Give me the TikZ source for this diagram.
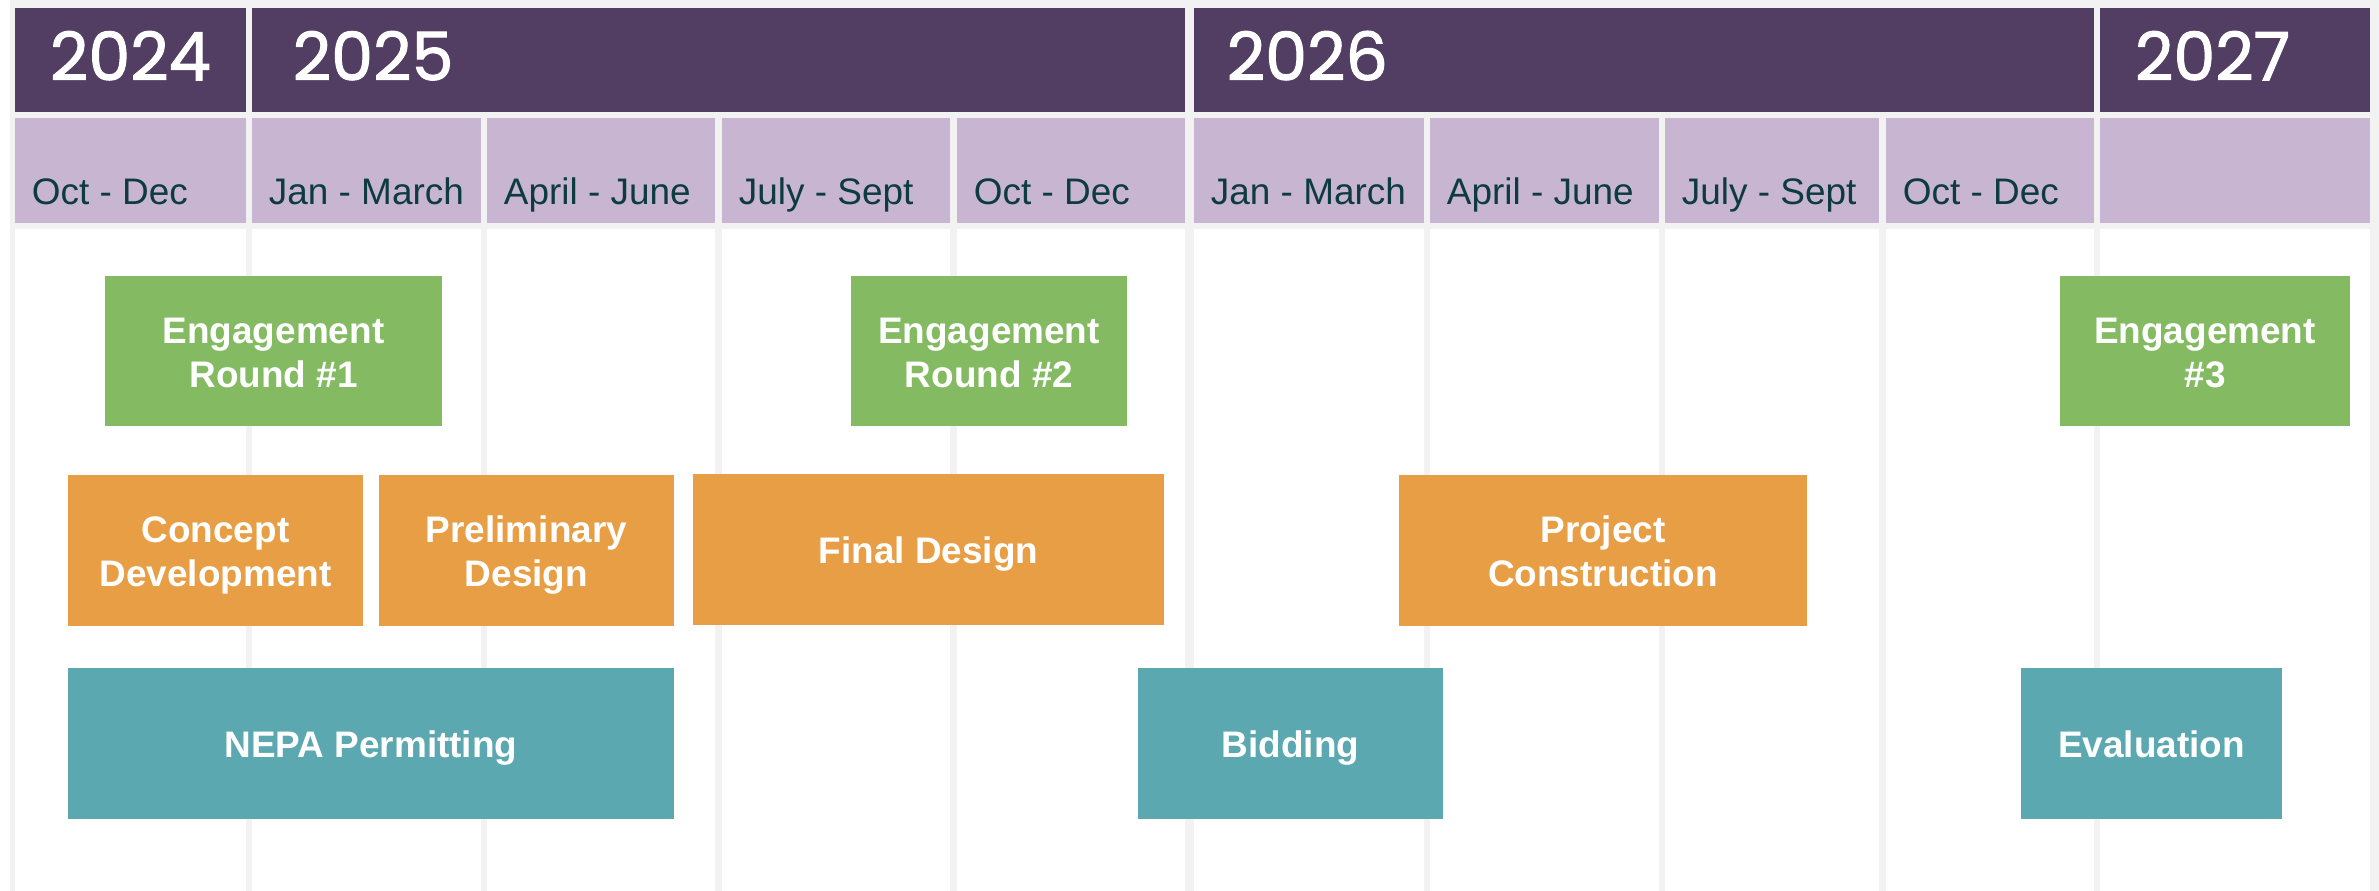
\documentclass[tikz,border=0pt]{standalone}
\usepackage{fontspec}
\setmainfont{Liberation Sans}
\newfontfamily\yearfont{Poppins}[FakeBold=1.5]
\usetikzlibrary{positioning}

\definecolor{yearpurple}{HTML}{523D63}
\definecolor{quarterlilac}{HTML}{C7B5D2}
\definecolor{qtextcolor}{HTML}{0D3B40}
\definecolor{gridgray}{HTML}{F2F2F2}
\definecolor{engagegreen}{HTML}{84BB62}
\definecolor{designorange}{HTML}{E89E45}
\definecolor{permitteal}{HTML}{5BA8B0}

% fixed line height for the box texts
\newcommand{\tstrut}{\rule{0pt}{11.2pt}}

\begin{document}
\begin{tikzpicture}[
    x=0.01cm, y=-0.01cm,
    year/.style={rectangle, fill=yearpurple, minimum height=1.04cm, inner sep=0},
    quarter/.style={rectangle, fill=quarterlilac, minimum height=1.05cm, inner sep=0},
    yeartext/.style={anchor=base west, inner sep=0, text=white, font=\yearfont\fontsize{19}{20}\selectfont},
    quartertext/.style={anchor=base west, inner sep=0, text=qtextcolor, font=\fontsize{10.5}{12}\selectfont},
    task/.style={rectangle, inner sep=0, align=center, text=white, minimum height=1.5cm,
        font=\bfseries\fontsize{10.5}{12.5}\selectfont,
        execute at end node={\rule[-3pt]{0pt}{3pt}}},
    engage/.style={task, fill=engagegreen},
    design/.style={task, fill=designorange},
    permit/.style={task, fill=permitteal}
]
\useasboundingbox (0,0) rectangle (2379,891);

% Grid background and body columns
\fill[gridgray] (10,0) rectangle (2379,891);
\foreach \l/\r in {15/246, 252/481, 487/715, 722/950, 957/1185, 1194/1424, 1430/1659, 1665/1879, 1886/2094, 2100/2370}
    \fill[white] (\l,229) rectangle (\r,891);

% Year row
\node[year, minimum width=2.31cm] (y2024) at (130.5,60) {};
\node[year, minimum width=9.33cm] (y2025) at (718.5,60) {};
\node[year, minimum width=9.00cm] (y2026) at (1644,60) {};
\node[year, minimum width=2.70cm] (y2027) at (2235,60) {};

\node[yeartext] (t2024) at ([shift={(35,73)}]y2024.north west) {2024};
\node[yeartext] (t2025) at ([shift={(41,73)}]y2025.north west) {2025};
\node[yeartext] (t2026) at ([shift={(33,73)}]y2026.north west) {2026};
\node[yeartext] (t2027) at ([shift={(35,73)}]y2027.north west) {2027};

% Quarter row
\node[quarter, minimum width=2.31cm] (q1) at (130.5,170.5) {};
\node[quarter, minimum width=2.29cm] (q2) at (366.5,170.5) {};
\node[quarter, minimum width=2.28cm] (q3) at (601,170.5) {};
\node[quarter, minimum width=2.28cm] (q4) at (836,170.5) {};
\node[quarter, minimum width=2.28cm] (q5) at (1071,170.5) {};
\node[quarter, minimum width=2.30cm] (q6) at (1309,170.5) {};
\node[quarter, minimum width=2.29cm] (q7) at (1544.5,170.5) {};
\node[quarter, minimum width=2.14cm] (q8) at (1772,170.5) {};
\node[quarter, minimum width=2.08cm] (q9) at (1990,170.5) {};
\node[quarter, minimum width=2.70cm] (q10) at (2235,170.5) {};

\node[quartertext] (l1) at ([shift={(17,-19)}]q1.south west) {Oct - Dec};
\node[quartertext] (l2) at ([shift={(17,-19)}]q2.south west) {Jan - March};
\node[quartertext] (l3) at ([shift={(17,-19)}]q3.south west) {April - June};
\node[quartertext] (l4) at ([shift={(17,-19)}]q4.south west) {July - Sept};
\node[quartertext] (l5) at ([shift={(17,-19)}]q5.south west) {Oct - Dec};
\node[quartertext] (l6) at ([shift={(17,-19)}]q6.south west) {Jan - March};
\node[quartertext] (l7) at ([shift={(17,-19)}]q7.south west) {April - June};
\node[quartertext] (l8) at ([shift={(17,-19)}]q8.south west) {July - Sept};
\node[quartertext] (l9) at ([shift={(17,-19)}]q9.south west) {Oct - Dec};

% Engagement rounds
\node[engage, minimum width=3.37cm] (eng1) at (273.5,351) {\tstrut Engagement\\Round \#1};
\node[engage, minimum width=2.76cm] (eng2) at (989,351) {\tstrut Engagement\\Round \#2};
\node[engage, minimum width=2.90cm] (eng3) at (2205,351) {\tstrut Engagement\\\#3};

% Design and construction
\node[design, minimum width=2.95cm] (concept) at (215.5,550.5) {\tstrut Concept\\Development};
\node[design, minimum width=2.95cm] (prelim) at (526.5,550.5) {\tstrut Preliminary\\Design};
\node[design, minimum width=4.71cm] (final) at (928.5,549.5) {\tstrut Final Design};
\node[design, minimum width=4.08cm] (construct) at (1603,550.5) {\tstrut Project\\Construction};

% Permitting, bidding, evaluation
\node[permit, minimum width=6.06cm] (nepa) at (371,743.5) {\tstrut NEPA Permitting};
\node[permit, minimum width=3.05cm] (bidding) at (1290.5,743.5) {\tstrut Bidding};
\node[permit, minimum width=2.61cm] (evaluation) at (2151.5,743.5) {\tstrut Evaluation};

\end{tikzpicture}
\end{document}
